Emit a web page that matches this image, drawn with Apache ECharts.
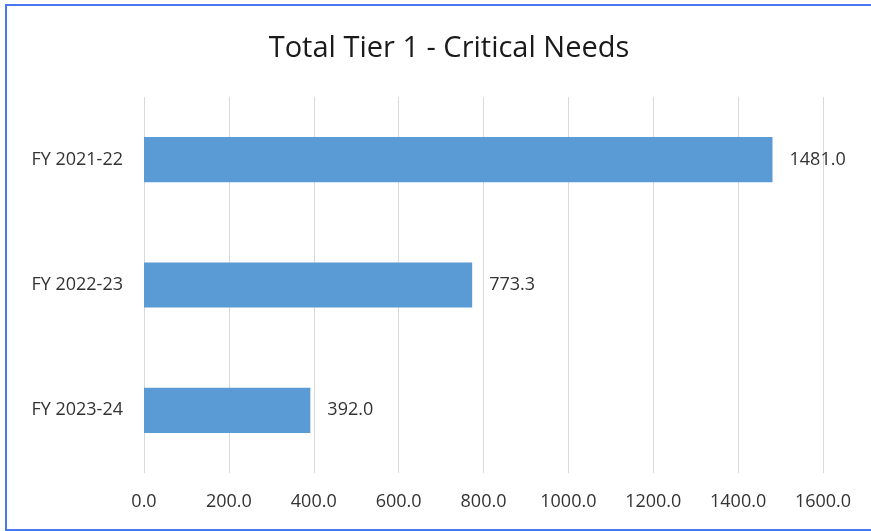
<!DOCTYPE html>
<html>
<head>
<meta charset="utf-8">
<script src="https://cdn.jsdelivr.net/npm/echarts@6/dist/echarts.min.js"></script>
<style>
  html, body { margin: 0; padding: 0; background: #fff; }
  #frame {
    position: absolute; left: 5px; top: 4px; width: 880px; height: 523px;
    border-left: 2px solid #4a78f0; border-top: 2px solid #4a78f0; border-bottom: 2px solid #4a78f0;
  }
  #chart { position: absolute; left: 0; top: 0; width: 871px; height: 531px; }
</style>
</head>
<body>
<div id="frame"></div>
<div id="chart"></div>
<script>
// chart data
const categories = ["FY 2021-22", "FY 2022-23", "FY 2023-24"];
const values = [1481.0, 773.3, 392.0];
const xMax = 1600;
const xStep = 200;

let myChart = echarts.init(document.getElementById("chart"));

myChart.setOption({
  animation: false,
  title: {
    text: "Total Tier 1 - Critical Needs",
    left: 444,
    top: 29,
    textAlign: "center",
    textStyle: {
      fontFamily: "Open Sans",
      fontSize: 29,
      fontWeight: "normal",
      color: "#1a1a1a"
    }
  },
  grid: {
    left: 144,
    right: 48,
    top: 97,
    bottom: 58
  },
  xAxis: {
    type: "value",
    min: 0,
    max: xMax,
    interval: xStep,
    axisLine: { show: false },
    axisTick: { show: false },
    splitLine: { lineStyle: { color: "#d9d9d9", width: 1 } },
    axisLabel: {
      margin: 20,
      color: "#333333",
      fontFamily: "Open Sans",
      fontSize: 18,
      formatter: function (v) { return v.toFixed(1); }
    }
  },
  yAxis: {
    type: "category",
    inverse: true,
    data: categories,
    axisLine: { show: false },
    axisTick: { show: false },
    axisLabel: {
      margin: 21,
      color: "#333333",
      fontFamily: "Open Sans",
      fontSize: 18
    }
  },
  series: [
    {
      type: "bar",
      data: values,
      barWidth: "36%",
      itemStyle: { color: "#5b9bd5" },
      label: {
        show: true,
        position: "right",
        distance: 17,
        color: "#333333",
        fontFamily: "Open Sans",
        fontSize: 18,
        formatter: function (p) { return p.value.toFixed(1); }
      }
    }
  ]
});
</script>
</body>
</html>
